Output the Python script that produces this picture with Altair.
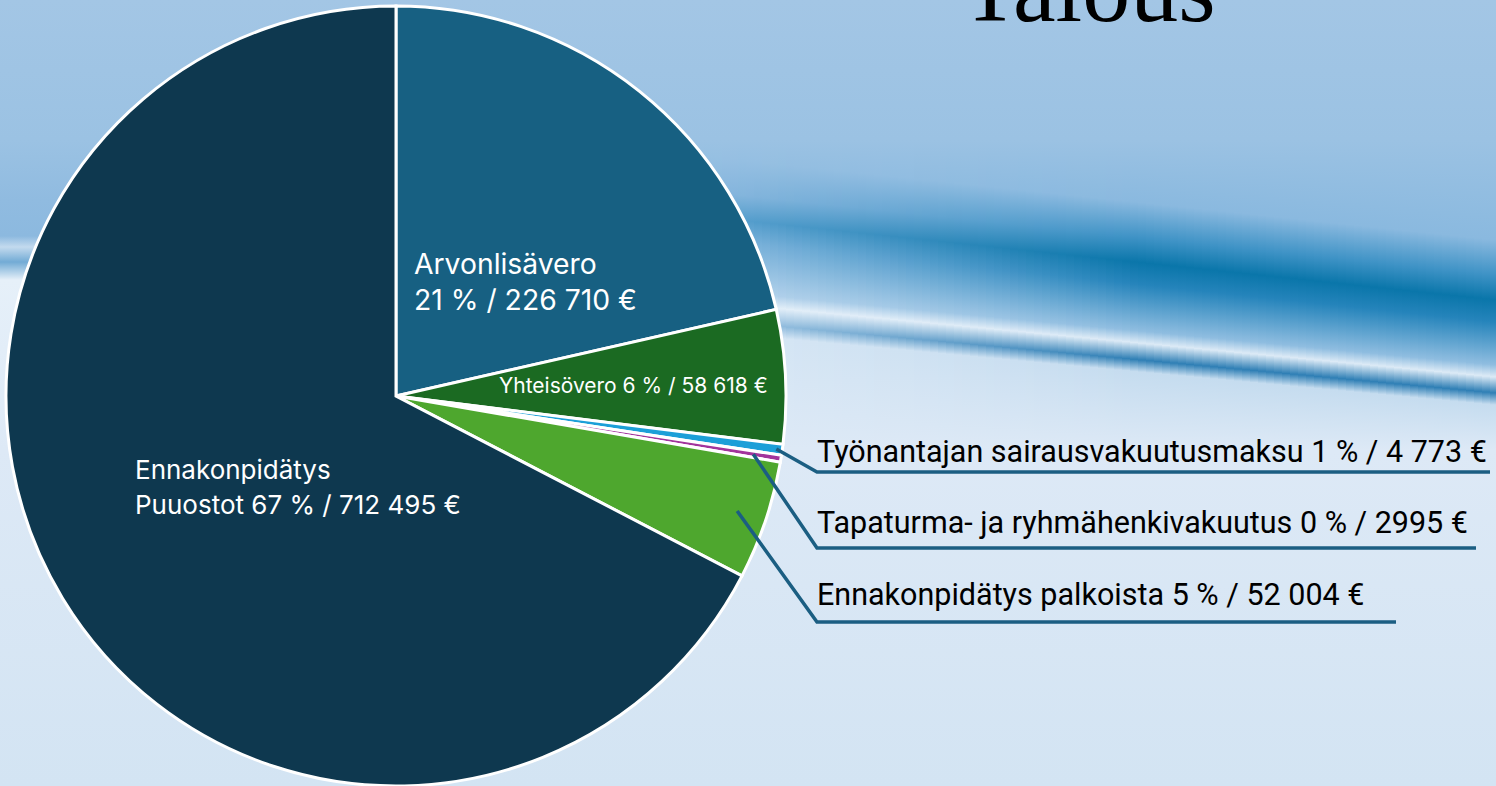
import math
import altair as alt
import pandas as pd

# ---- data ----
categories = [
    "Arvonlisävero",
    "Yhteisövero",
    "Työnantajan sairausvakuutusmaksu",
    "Tapaturma- ja ryhmähenkivakuutus",
    "Ennakonpidätys palkoista",
    "Ennakonpidätys Puuostot",
]
values = [226710, 58618, 4773, 2995, 52004, 712495]
colors = ["#176082", "#1b6a22", "#1c9fd8", "#a2349c", "#4ea72e", "#0e384f"]

inner_line1 = ["Arvonlisävero", "Yhteisövero 6 % / 58 618 €", "Ennakonpidätys"]
inner_line2 = ["21 % / 226 710 €", "", "Puuostot 67 % / 712 495 €"]
outer_labels = [
    "Työnantajan sairausvakuutusmaksu 1 % / 4 773 €",
    "Tapaturma- ja ryhmähenkivakuutus 0 % / 2995 €",
    "Ennakonpidätys palkoista 5 % / 52 004 €",
]
outer_index = [2, 3, 4]

# ---- layout ----
W, H = 1496, 786
CX, CY, R = 396, 396, 390

pie_df = pd.DataFrame({
    "cat": categories,
    "value": values,
    "order": list(range(len(categories))),
})

base_data = alt.Data(values=[{"k": 1}])


def stops(pairs):
    return [alt.GradientStop(color=c, offset=o) for o, c in pairs]


# background: vertical gradient
bg = alt.Chart(base_data).mark_rect(
    color=alt.Gradient(
        gradient="linear", x1=0, y1=0, x2=0, y2=1,
        stops=stops([
            (0.0, "#a3c6e5"),
            (140 / H, "#9bc2e3"),
            (200 / H, "#90bbe0"),
            (236 / H, "#8cb9df"),
            (247 / H, "#c3daee"),
            (262 / H, "#72abd5"),
            (280 / H, "#e6f0f9"),
            (350 / H, "#e2edf8"),
            (450 / H, "#dde9f6"),
            (1.0, "#d3e4f3"),
        ]),
    )
).encode(x=alt.value(0), x2=alt.value(W), y=alt.value(0), y2=alt.value(H))


def hex2rgb(h):
    h = h.lstrip("#")
    return [int(h[i:i + 2], 16) for i in (0, 2, 4)]


def mix(a, b, s):
    ra, rb = hex2rgb(a), hex2rgb(b)
    return "#" + "".join(f"{round(ra[i] + (rb[i] - ra[i]) * s):02x}" for i in range(3))


# swoosh on the right, drawn as narrow vertical-gradient strips
SY0, SY1 = 140, 450
X0, X1, SW = 690, W, 8
strips = []
x = X0
while x < X1:
    t = (x + SW / 2 - X0) / (X1 - X0)
    s = min(1.0, t * 1.8)
    core = 215 + 85 * t
    bright = 300 + 77 * t
    thin = 318 + 75 * t
    prof = [
        (SY0, "#9bc2e3"),
        (core - 60, mix("#97c0e2", "#8ab9df", s)),
        (core - 25, mix("#8cb9df", "#3f93c6", s)),
        (core, mix("#5fa3d1", "#0a76aa", s)),
        (core + 22, mix("#86b8de", "#2584bb", s)),
        (bright - 12, mix("#b7d4ec", "#8fbde0", s)),
        (bright, mix("#e4eff9", "#dceaf6", s)),
        (thin, mix("#a9cbe7", "#2f7fb5", s)),
        (thin + 12, mix("#d8e7f5", "#c5dcef", s)),
        (SY1, "#dde9f6"),
    ]
    g = alt.Gradient(
        gradient="linear", x1=0, y1=0, x2=0, y2=1,
        stops=stops([((yy - SY0) / (SY1 - SY0), c) for yy, c in prof]),
    )
    strips.append(
        alt.Chart(base_data).mark_rect(color=g).encode(
            x=alt.value(x), x2=alt.value(min(x + SW, X1)),
            y=alt.value(SY0), y2=alt.value(SY1),
        )
    )
    x += SW

title = alt.Chart(base_data).mark_text(
    text="Talous", font="Liberation Serif", fontSize=96, color="#000000",
    align="left", baseline="alphabetic"
).encode(x=alt.value(961), y=alt.value(21))

pie = alt.Chart(pie_df).mark_arc(
    radius=R, stroke="#ffffff", strokeWidth=3
).encode(
    theta=alt.Theta("value:Q", stack=True),
    order=alt.Order("order:Q"),
    color=alt.Color("cat:N", scale=alt.Scale(domain=categories, range=colors), legend=None),
    x=alt.value(CX),
    y=alt.value(CY),
)

# inner labels
inner_df = pd.DataFrame({
    "t1": inner_line1,
    "t2": inner_line2,
    "x": [414, 499, 135],
    "y1": [274, 393, 479],
    "y2": [310, 0, 514],
    "size": [28.3, 21, 26],
})
inner1 = alt.Chart(inner_df).mark_text(
    align="left", baseline="alphabetic", color="#ffffff", font="Inter"
).encode(
    x=alt.X("x:Q", scale=None), y=alt.Y("y1:Q", scale=None),
    text="t1:N", size=alt.Size("size:Q", scale=None, legend=None),
)
inner2 = alt.Chart(inner_df[inner_df["t2"] != ""]).mark_text(
    align="left", baseline="alphabetic", color="#ffffff", font="Inter"
).encode(
    x=alt.X("x:Q", scale=None), y=alt.Y("y2:Q", scale=None),
    text="t2:N", size=alt.Size("size:Q", scale=None, legend=None),
)

# leader lines computed from slice mid-angles
total = sum(values)
cum = [sum(values[:i]) for i in range(len(values))]
start_r = [384, 362, 360]
line_y = [472, 548, 622]
text_y = [462, 533, 605]
line_end = [1490, 1476, 1396]
elbow_x = 817
rows = []
for k, idx in enumerate(outer_index):
    mid = (cum[idx] + values[idx] / 2) / total * 2 * math.pi
    sx = CX + start_r[k] * math.sin(mid)
    sy = CY - start_r[k] * math.cos(mid)
    for s_, (px, py) in enumerate([(sx, sy), (elbow_x, line_y[k]), (line_end[k], line_y[k])]):
        rows.append({"lbl": outer_labels[k], "seq": s_, "px": px, "py": py})
lead_df = pd.DataFrame(rows)
leaders = alt.Chart(lead_df).mark_line(color="#1b5e82", strokeWidth=3.5).encode(
    x=alt.X("px:Q", scale=None), y=alt.Y("py:Q", scale=None),
    detail="lbl:N", order="seq:Q",
)

outer_df = pd.DataFrame({"lbl": outer_labels, "x": [elbow_x] * 3, "y": text_y})
outer = alt.Chart(outer_df).mark_text(
    align="left", baseline="alphabetic", color="#000000", font="Roboto", fontSize=30.5
).encode(x=alt.X("x:Q", scale=None), y=alt.Y("y:Q", scale=None), text="lbl:N")

chart = alt.layer(bg, *strips, title, pie, inner1, inner2, leaders, outer).properties(
    width=W, height=H, autosize=alt.AutoSizeParams(type="none"), padding=0
).configure_view(stroke=None).configure(background="#d3e4f3")

chart.save("out.html", embed_options={"renderer": "svg", "actions": False})
